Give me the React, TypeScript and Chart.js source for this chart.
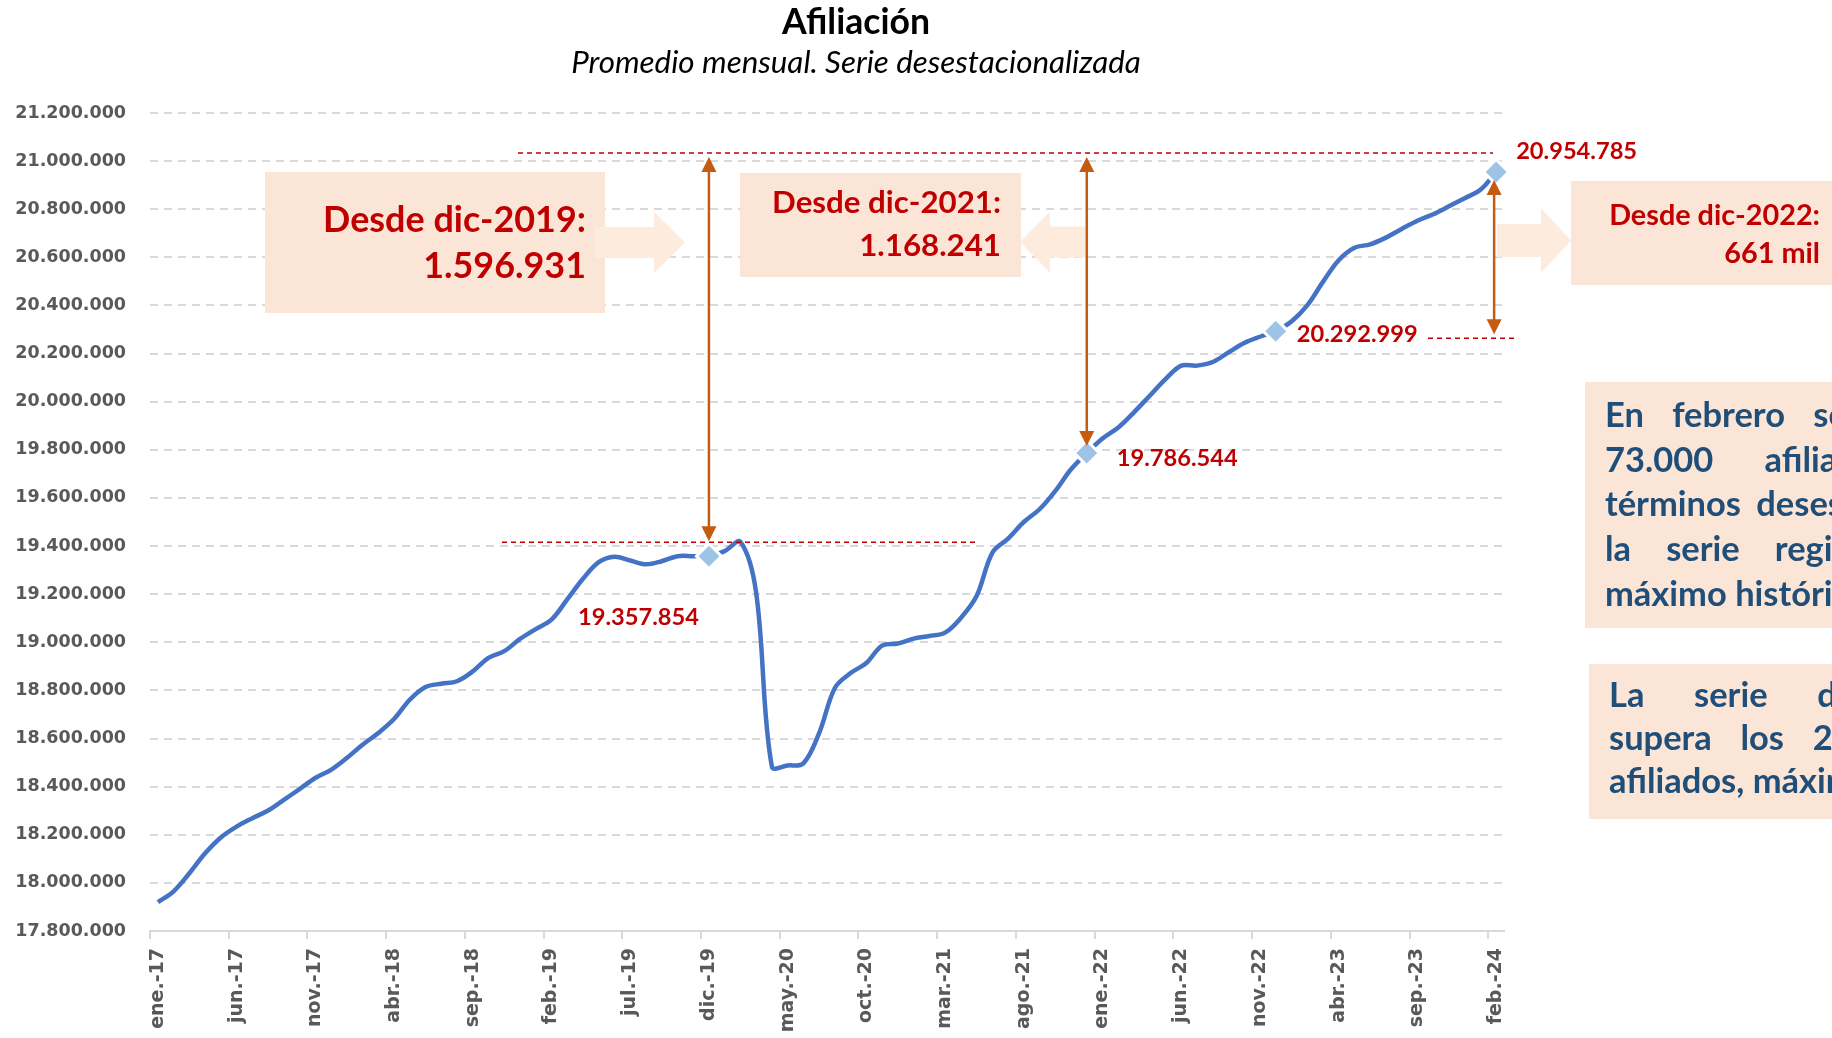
import React, { useEffect, useRef } from 'react';
import { Chart, registerables } from 'chart.js';

Chart.register(...registerables);

// ---------- DATA ----------
const MONTHS = ['ene.', 'feb.', 'mar.', 'abr.', 'may.', 'jun.', 'jul.', 'ago.', 'sep.', 'oct.', 'nov.', 'dic.'];
const YEARS = ['17', '18', '19', '20', '21', '22', '23', '24'];

// Afiliación media mensual, serie desestacionalizada (ene-17 .. feb-24)
const AFILIADOS = [
  17920000, 17965000, 18040000, 18123000, 18189000, 18234000, 18269000, 18301000, 18345000, 18390000, 18436000, 18470000,
  18519000, 18574000, 18623000, 18681000, 18761000, 18814000, 18828000, 18838000, 18879000, 18935000, 18963000, 19014000,
  19055000, 19094000, 19178000, 19264000, 19333000, 19356000, 19340000, 19324000, 19337000, 19358000, 19358000, 19357854,
  19379000, 19417000, 19206000, 18483000, 18488000, 18497000, 18622000, 18810000, 18872000, 18914000, 18986000, 18995000,
  19015000, 19026000, 19040000, 19101000, 19192000, 19372000, 19431000, 19500000, 19553000, 19629000, 19719000, 19786544,
  19847000, 19893000, 19956000, 20025000, 20094000, 20150000, 20150000, 20165000, 20205000, 20244000, 20270000, 20292999,
  20333000, 20400000, 20498000, 20588000, 20640000, 20654000, 20682000, 20718000, 20752000, 20779000, 20812000, 20846000,
  20881000, 20954785,
];

const HIGHLIGHT = [35, 59, 71, 85]; // dic-19, dic-21, dic-22, feb-24
const LABEL_EVERY = 5;
const Y_MIN = 17800000;
const Y_MAX = 21200000;
const Y_STEP = 200000;

const TITLE = 'Afiliación';
const SUBTITLE = 'Promedio mensual. Serie desestacionalizada';

const BOX4_LINES = [
  'En febrero se sumaron casi',
  '73.000 afiliados más en',
  'términos desestacionalizados y',
  'la serie registra un nuevo',
  'máximo histórico.',
];
const BOX5_LINES = ['La serie desestacionalizada', 'supera los 20,9 millones de', 'afiliados, máximo histórico.'];

const CATEGORIES: string[] = [];
YEARS.forEach((y) => MONTHS.forEach((m) => {
  if (CATEGORIES.length < AFILIADOS.length) CATEGORIES.push(`${m}-${y}`);
}));

const fmt = (n: number) => Math.round(n).toString().replace(/\B(?=(\d{3})+(?!\d))/g, '.');
const longName = (i: number) => `${MONTHS[i % 12].replace('.', '')}-20${YEARS[Math.floor(i / 12)]}`;

// ---------- DRAW HELPERS ----------
const RED = '#C00000';
const ORANGE = '#C55A11';
const BOX = '#FBE5D6';
const ARROWFILL = '#FDEBDE';
const BLUE_TEXT = '#1F4E79';

function fitSize(ctx: CanvasRenderingContext2D, text: string, font: string, target: number) {
  ctx.font = font.replace('{s}', '100');
  const w = ctx.measureText(text).width;
  return (100 * target) / w;
}

function blockArrow(ctx: CanvasRenderingContext2D, xStart: number, xBase: number, xTip: number, cy: number, shaftH: number, headH: number) {
  ctx.beginPath();
  ctx.moveTo(xStart, cy - shaftH);
  ctx.lineTo(xBase, cy - shaftH);
  ctx.lineTo(xBase, cy - headH);
  ctx.lineTo(xTip, cy);
  ctx.lineTo(xBase, cy + headH);
  ctx.lineTo(xBase, cy + shaftH);
  ctx.lineTo(xStart, cy + shaftH);
  ctx.closePath();
  ctx.fillStyle = ARROWFILL;
  ctx.fill();
}

function doubleArrow(ctx: CanvasRenderingContext2D, x: number, y1: number, y2: number) {
  const hl = 15;
  const hw = 7.5;
  ctx.strokeStyle = ORANGE;
  ctx.fillStyle = ORANGE;
  ctx.lineWidth = 2.5;
  ctx.setLineDash([]);
  ctx.beginPath();
  ctx.moveTo(x, y1 + hl - 1);
  ctx.lineTo(x, y2 - hl + 1);
  ctx.stroke();
  ctx.beginPath();
  ctx.moveTo(x, y1);
  ctx.lineTo(x - hw, y1 + hl);
  ctx.lineTo(x + hw, y1 + hl);
  ctx.closePath();
  ctx.fill();
  ctx.beginPath();
  ctx.moveTo(x, y2);
  ctx.lineTo(x - hw, y2 - hl);
  ctx.lineTo(x + hw, y2 - hl);
  ctx.closePath();
  ctx.fill();
}

function dashedLine(ctx: CanvasRenderingContext2D, x1: number, x2: number, y: number) {
  ctx.save();
  ctx.strokeStyle = RED;
  ctx.lineWidth = 1.5;
  ctx.setLineDash([5, 4]);
  ctx.beginPath();
  ctx.moveTo(x1, y);
  ctx.lineTo(x2, y);
  ctx.stroke();
  ctx.restore();
}

function justified(ctx: CanvasRenderingContext2D, line: string, x: number, y: number, width: number, justify: boolean) {
  if (!justify) {
    ctx.fillText(line, x, y);
    return;
  }
  const words = line.split(' ');
  const ws = words.map((w) => ctx.measureText(w).width);
  const total = ws.reduce((a, b) => a + b, 0);
  const gap = words.length > 1 ? (width - total) / (words.length - 1) : 0;
  let cx = x;
  words.forEach((w, i) => {
    ctx.fillText(w, cx, y);
    cx += ws[i] + gap;
  });
}

const annotPlugin = {
  id: 'annotations',
  afterDraw(chart: any) {
    const ctx: CanvasRenderingContext2D = chart.ctx;
    const xs = chart.scales.x;
    const ys = chart.scales.y;
    const px = (i: number) => xs.getPixelForValue(i);
    const py = (v: number) => ys.getPixelForValue(v);
    const last = AFILIADOS[AFILIADOS.length - 1];
    const [i19, i21, i22, i24] = HIGHLIGHT;

    ctx.save();
    ctx.textBaseline = 'alphabetic';

    // Title & subtitle
    ctx.fillStyle = '#000000';
    ctx.textAlign = 'center';
    let s = fitSize(ctx, TITLE, 'bold {s}px Lato', 148);
    ctx.font = `bold ${s}px Lato`;
    ctx.fillText(TITLE, 856, 34);
    s = fitSize(ctx, SUBTITLE, 'italic {s}px Lato', 570);
    ctx.font = `italic ${s}px Lato`;
    ctx.fillText(SUBTITLE, 856, 73);

    // Dashed reference lines
    dashedLine(ctx, 518, 1493, 153);
    dashedLine(ctx, 502, 977, py(AFILIADOS[i19]) - 14);
    dashedLine(ctx, 1428, 1515, py(AFILIADOS[i22]) + 7);

    // Boxes
    ctx.fillStyle = BOX;
    ctx.fillRect(265, 172, 340, 141);
    ctx.fillRect(740, 173, 281, 104);
    ctx.fillRect(1571, 181, 320, 104);
    ctx.fillRect(1585, 382, 520, 246);
    ctx.fillRect(1589, 664, 520, 155);

    // Block arrows
    blockArrow(ctx, 595, 654, 685, 242.5, 15.5, 30.5);
    blockArrow(ctx, 1085, 1050, 1020, 242, 15.5, 30.5);
    blockArrow(ctx, 1497, 1541, 1571, 240.5, 16.5, 32.5);

    // Box texts
    ctx.fillStyle = RED;
    ctx.textAlign = 'right';
    const l1 = `Desde ${longName(i19)}:`;
    s = fitSize(ctx, l1, 'bold {s}px Lato', 263);
    ctx.font = `bold ${s}px Lato`;
    ctx.fillText(l1, 586, 232);
    ctx.fillText(fmt(last - AFILIADOS[i19]), 586, 278);

    const l2 = `Desde ${longName(i21)}:`;
    s = fitSize(ctx, l2, 'bold {s}px Lato', 229);
    ctx.font = `bold ${s}px Lato`;
    ctx.fillText(l2, 1001, 213);
    ctx.fillText(fmt(last - AFILIADOS[i21]), 1001, 256);

    const l3 = `Desde ${longName(i22)}:`;
    s = fitSize(ctx, l3, 'bold {s}px Lato', 211);
    ctx.font = `bold ${s}px Lato`;
    ctx.fillText(l3, 1820, 225);
    ctx.fillText(`${Math.floor((last - AFILIADOS[i22]) / 1000)} mil`, 1820, 263);

    // Vertical double arrows
    doubleArrow(ctx, px(i19), 157, py(AFILIADOS[i19]) - 15);
    doubleArrow(ctx, px(i21), 157, py(AFILIADOS[i21]) - 7);
    doubleArrow(ctx, px(i24) - 2, py(AFILIADOS[i24]) + 8, py(AFILIADOS[i22]) + 3);

    // Point value labels
    ctx.fillStyle = RED;
    s = fitSize(ctx, fmt(AFILIADOS[i19]), 'bold {s}px Lato', 121);
    ctx.font = `bold ${s}px Lato`;
    ctx.textAlign = 'right';
    ctx.fillText(fmt(AFILIADOS[i19]), px(i19) - 10, py(AFILIADOS[i19]) + 69);
    ctx.textAlign = 'left';
    ctx.fillText(fmt(AFILIADOS[i21]), px(i21) + 30, py(AFILIADOS[i21]) + 13);
    ctx.fillText(fmt(AFILIADOS[i22]), px(i22) + 21, py(AFILIADOS[i22]) + 11);
    ctx.fillText(fmt(AFILIADOS[i24]), px(i24) + 20, py(AFILIADOS[i24]) - 13);

    // Right text boxes
    ctx.fillStyle = BLUE_TEXT;
    ctx.textAlign = 'left';
    s = fitSize(ctx, 'términos', 'bold {s}px Lato', 136);
    ctx.font = `bold ${s}px Lato`;
    BOX4_LINES.forEach((line, k) => justified(ctx, line, 1605, 427 + k * 44.7, 489, k < BOX4_LINES.length - 1));
    BOX5_LINES.forEach((line, k) => justified(ctx, line, 1609, 707 + k * 43, 495, k < BOX5_LINES.length - 1));

    ctx.restore();
  },
};

export default function App() {
  const ref = useRef<HTMLCanvasElement>(null);

  useEffect(() => {
    if (!ref.current) return;
    const xFont = { family: 'DejaVu Sans', size: 19, weight: 'bold' as const };
    const yFont = { family: 'DejaVu Sans', size: 17.5, weight: 'bold' as const };
    const chart = new Chart(ref.current, {
      type: 'line',
      data: {
        labels: CATEGORIES,
        datasets: [
          {
            data: AFILIADOS,
            borderColor: '#4472C4',
            borderWidth: 4.5,
            tension: 0.35,
            fill: false,
            pointStyle: 'rectRot',
            pointRadius: (c: any) => (HIGHLIGHT.includes(c.dataIndex) ? 12.5 : 0),
            pointHoverRadius: (c: any) => (HIGHLIGHT.includes(c.dataIndex) ? 12.5 : 0),
            pointBackgroundColor: '#9DC3E6',
            pointBorderColor: '#FFFFFF',
            pointBorderWidth: 3,
          },
        ],
      },
      options: {
        responsive: false,
        animation: false,
        devicePixelRatio: 1,
        events: [],
        layout: { padding: { top: 113, right: 328, bottom: 0, left: 0 } },
        plugins: {
          legend: { display: false },
          title: { display: false },
          tooltip: { enabled: false },
        },
        scales: {
          x: {
            type: 'category',
            offset: true,
            afterFit: (scale: any) => {
              scale.height = 107;
            },
            grid: {
              display: true,
              offset: true,
              drawOnChartArea: false,
              drawTicks: true,
              tickLength: 8,
              lineWidth: 2,
              color: (c: any) => (c.index % LABEL_EVERY === 0 ? '#D9D9D9' : 'rgba(0,0,0,0)'),
            },
            border: { display: true, color: '#D9D9D9', width: 2 },
            ticks: {
              autoSkip: false,
              maxRotation: 90,
              minRotation: 90,
              padding: 9,
              color: '#595959',
              font: xFont,
              callback: (_v: any, idx: number) => (idx % LABEL_EVERY === 0 ? CATEGORIES[idx] : ''),
            },
          },
          y: {
            min: Y_MIN,
            max: Y_MAX,
            afterFit: (scale: any) => {
              scale.width = 150;
            },
            grid: { color: '#D9D9D9', lineWidth: 2, drawTicks: false },
            border: { display: false, dash: [8, 6] },
            ticks: {
              stepSize: Y_STEP,
              padding: 24,
              color: '#595959',
              font: yFont,
              callback: (v: any) => fmt(Number(v)),
            },
          },
        },
      },
      plugins: [annotPlugin],
    } as any);
    return () => chart.destroy();
  }, []);

  return (
    <div style={{ position: 'fixed', left: 0, top: 0, width: 1832, height: 1038, overflow: 'hidden', background: '#ffffff' }}>
      <canvas ref={ref} width={1832} height={1038} style={{ display: 'block', width: 1832, height: 1038 }} />
    </div>
  );
}
